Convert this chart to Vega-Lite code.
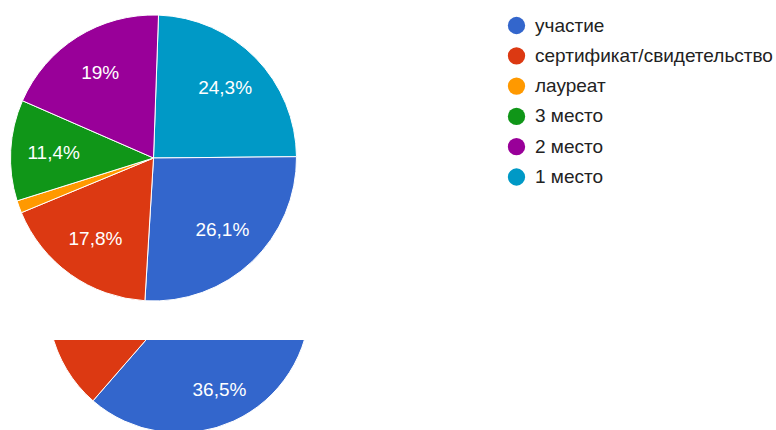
{
  "$schema": "https://vega.github.io/schema/vega-lite/v6.json",
  "padding": 0,
  "background": "white",
  "spacing": 24,
  "config": {"view": {"stroke": null}, "font": "Liberation Sans"},
  "datasets": {
    "top": [
      {"idx": 1, "category": "1 место", "value": 24.3, "label": "24,3%"},
      {"idx": 2, "category": "участие", "value": 26.1, "label": "26,1%"},
      {"idx": 3, "category": "сертификат/свидетельство", "value": 17.8, "label": "17,8%"},
      {"idx": 4, "category": "лауреат", "value": 1.4, "label": ""},
      {"idx": 5, "category": "3 место", "value": 11.4, "label": "11,4%"},
      {"idx": 6, "category": "2 место", "value": 19.0, "label": "19%"}
    ],
    "bottom": [
      {"idx": 1, "category": "1 место", "value": 24.9, "label": ""},
      {"idx": 2, "category": "участие", "value": 36.5, "label": "36,5%"},
      {"idx": 3, "category": "сертификат/свидетельство", "value": 20.0, "label": ""},
      {"idx": 4, "category": "лауреат", "value": 1.0, "label": ""},
      {"idx": 5, "category": "3 место", "value": 7.6, "label": ""},
      {"idx": 6, "category": "2 место", "value": 10.0, "label": ""}
    ]
  },
  "resolve": {"scale": {"color": "independent", "theta": "independent"}, "legend": {"color": "independent"}},
  "vconcat": [
    {
      "width": 307,
      "height": 316,
      "data": {"name": "top"},
      "encoding": {
        "theta": {"field": "value", "type": "quantitative", "stack": true, "scale": {"range": [0.035, 6.3182]}},
        "order": {"field": "idx", "type": "quantitative"}
      },
      "layer": [
        {
          "mark": {"type": "arc", "outerRadius": 143, "stroke": "white", "strokeWidth": 1},
          "encoding": {
            "color": {
              "field": "category",
              "type": "nominal",
              "scale": {
                "domain": ["участие", "сертификат/свидетельство", "лауреат", "3 место", "2 место", "1 место"],
                "range": ["#3366cc", "#dc3912", "#ff9900", "#109618", "#990099", "#0099c6"]
              },
              "legend": {
                "orient": "none",
                "legendX": 507,
                "legendY": 16,
                "title": null,
                "symbolType": "circle",
                "symbolSize": 300,
                "symbolStrokeWidth": 0,
                "labelFontSize": 19,
                "labelColor": "#222222",
                "labelOffset": 9,
                "rowPadding": 10.3,
                "labelLimit": 400
              }
            }
          }
        },
        {
          "mark": {"type": "text", "radius": 100, "fill": "white", "fontSize": 19},
          "encoding": {"text": {"field": "label", "type": "nominal"}}
        }
      ]
    },
    {
      "width": 358,
      "height": 90,
      "data": {"name": "bottom"},
      "encoding": {
        "theta": {"field": "value", "type": "quantitative", "stack": true},
        "order": {"field": "idx", "type": "quantitative"}
      },
      "layer": [
        {
          "mark": {"type": "arc", "outerRadius": 131, "stroke": "white", "strokeWidth": 1, "yOffset": -83, "clip": true},
          "encoding": {
            "color": {
              "field": "category",
              "type": "nominal",
              "scale": {
                "domain": ["участие", "сертификат/свидетельство", "лауреат", "3 место", "2 место", "1 место"],
                "range": ["#3366cc", "#dc3912", "#ff9900", "#109618", "#990099", "#0099c6"]
              },
              "legend": null
            }
          }
        },
        {
          "mark": {"type": "text", "radius": 97, "fill": "white", "fontSize": 19, "yOffset": -83, "clip": true},
          "encoding": {"text": {"field": "label", "type": "nominal"}}
        }
      ]
    }
  ]
}
